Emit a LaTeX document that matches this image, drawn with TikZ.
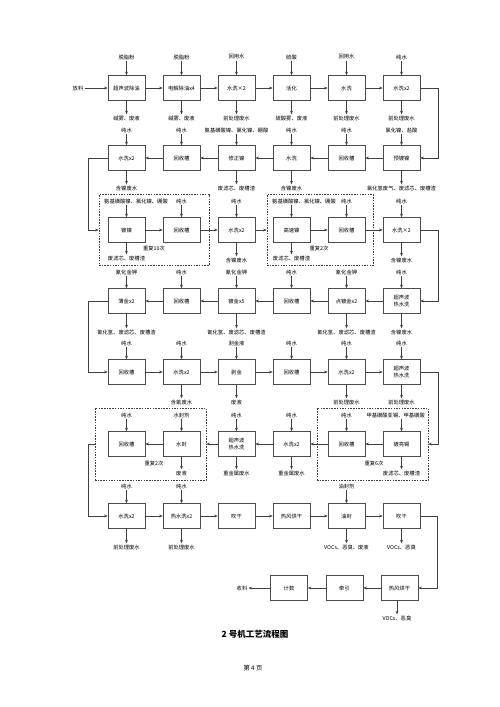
\documentclass[tikz,border=0pt]{standalone}
\usepackage{fontspec}
\setmainfont{Noto Sans CJK SC}
\usetikzlibrary{arrows.meta}
\newcommand{\labfont}{\fontsize{5.3}{6.2}\selectfont}
\begin{document}
\begin{tikzpicture}[x=1pt,y=-1pt,
  box/.style={draw=black!70, line width=0.7pt, minimum width=37pt, minimum height=25pt, inner sep=0pt, align=center, font=\labfont},
  lab/.style={inner sep=1pt, font=\labfont, align=center},
  arr/.style={draw=black!75, line width=0.5pt, -{Stealth[length=3.5pt,width=2.8pt]}},
  dbox/.style={draw=black!75, line width=0.6pt, dash pattern=on 1.5pt off 1.2pt, inner sep=0pt}]
\useasboundingbox (0,0) rectangle (500,707);
\fill[white] (0,0) rectangle (500,707);

% dashed groups
\node[dbox, minimum width=110pt, minimum height=71pt] (D1) at (154,230) {};
\node[dbox, minimum width=106pt, minimum height=71pt] (D2) at (320,230) {};
\node[dbox, minimum width=111pt, minimum height=72pt] (D3) at (372.5,444) {};
\node[dbox, minimum width=111pt, minimum height=72pt] (D4) at (150.5,444) {};

% ---------------- row 1
\node[box] (r1c1) at (126.5,88) {超声波除油};
\node[box] (r1c2) at (181.5,88) {电解除油x4};
\node[box] (r1c3) at (236.5,88) {水洗×2};
\node[box] (r1c4) at (291.5,88) {活化};
\node[box] (r1c5) at (346.5,88) {水洗};
\node[box] (r1c6) at (401.5,88) {水洗x2};
\node[lab] (fl) at (78,88) {放料};
\node[lab] (i1c1) at (126.5,57) {脱脂粉};
\node[lab] (i1c2) at (181.5,57) {脱脂粉};
\node[lab] (i1c3) at (236.5,57) {回用水};
\node[lab] (i1c4) at (291.5,57) {硫酸};
\node[lab] (i1c5) at (346.5,57) {回用水};
\node[lab] (i1c6) at (401.5,57) {纯水};
\node[lab] (o1c1) at (126.5,118) {碱雾、废液};
\node[lab] (o1c2) at (181.5,118) {碱雾、废液};
\node[lab] (o1c3) at (236.5,118) {前处理废水};
\node[lab] (o1c4) at (291.5,118) {硫酸雾、废液};
\node[lab] (o1c5) at (346.5,118) {前处理废水};
\node[lab] (o1c6) at (401.5,118) {前处理废水};

% ---------------- row 2
\node[box] (r2c1) at (126.5,158) {水洗x2};
\node[box] (r2c2) at (181.5,158) {回收槽};
\node[box] (r2c3) at (236.5,158) {修正镍};
\node[box] (r2c4) at (291.5,158) {水洗};
\node[box] (r2c5) at (346.5,158) {回收槽};
\node[box] (r2c6) at (401.5,158) {预镀镍};
\node[lab] (i2c1) at (126.5,130) {纯水};
\node[lab] (i2c2) at (181.5,130) {纯水};
\node[lab] (i2c3) at (236.5,130) {氨基磺酸镍、氯化镍、硼酸};
\node[lab] (i2c4) at (291.5,130) {纯水};
\node[lab] (i2c5) at (346.5,130) {纯水};
\node[lab] (i2c6) at (401.5,130) {氯化镍、盐酸};
\node[lab] (o2c1) at (126.5,188) {含镍废水};
\node[lab] (o2c3) at (236.5,188) {废滤芯、废槽渣};
\node[lab] (o2c4) at (291.5,188) {含镍废水};
\node[lab] (o2c6) at (401.5,188) {氯化氢废气、废滤芯、废槽渣};

% ---------------- row 3
\node[box] (r3c1) at (126.5,230) {镀镍};
\node[box] (r3c2) at (181.5,230) {回收槽};
\node[box] (r3c3) at (236.5,230) {水洗x2};
\node[box] (r3c4) at (291.5,230) {高速镍};
\node[box] (r3c5) at (346.5,230) {回收槽};
\node[box] (r3c6) at (401.5,230) {水洗×2};
\node[lab,anchor=west] (i3c1) at (103,201) {氨基磺酸镍、氯化镍、硼酸};
\node[lab] (i3c2) at (181.5,201) {纯水};
\node[lab] (i3c3) at (236.5,201) {纯水};
\node[lab,anchor=west] (i3c4) at (271,201) {氨基磺酸镍、氯化镍、硼酸};
\node[lab] (i3c5) at (346.5,201) {纯水};
\node[lab] (i3c6) at (401.5,201) {纯水};
\node[lab] (o3c1) at (126.5,258) {废滤芯、废槽渣};
\node[lab] (o3c3) at (236.5,260) {含镍废水};
\node[lab] (o3c4) at (291.5,258) {废滤芯、废槽渣};
\node[lab] (o3c6) at (401.5,260) {含镍废水};
\node[lab] (rep1) at (154,248) {重复10次};
\node[lab] (rep2) at (319,248) {重复2次};

% ---------------- row 4
\node[box] (r4c1) at (126.5,301) {薄金x2};
\node[box] (r4c2) at (181.5,301) {回收槽};
\node[box] (r4c3) at (236.5,301) {镀金x5};
\node[box] (r4c4) at (291.5,301) {回收槽};
\node[box] (r4c5) at (346.5,301) {点镀金x2};
\node[box] (r4c6) at (401.5,301) {超声波\\热水洗};
\node[lab] (i4c1) at (126.5,272) {氰化金钾};
\node[lab] (i4c2) at (181.5,272) {纯水};
\node[lab] (i4c3) at (236.5,272) {氰化金钾};
\node[lab] (i4c4) at (291.5,272) {纯水};
\node[lab] (i4c5) at (346.5,272) {氰化金钾};
\node[lab] (i4c6) at (401.5,272) {纯水};
\node[lab] (o4c1) at (126.5,332) {氰化氢、废滤芯、废槽渣};
\node[lab] (o4c3) at (236.5,332) {氰化氢、废滤芯、废槽渣};
\node[lab] (o4c5) at (346.5,332) {氰化氢、废滤芯、废槽渣};
\node[lab] (o4c6) at (401.5,332) {含镍废水};

% ---------------- row 5
\node[box] (r5c1) at (126.5,372) {回收槽};
\node[box] (r5c2) at (181.5,372) {水洗x2};
\node[box] (r5c3) at (236.5,372) {剥金};
\node[box] (r5c4) at (291.5,372) {回收槽};
\node[box] (r5c5) at (346.5,372) {水洗x2};
\node[box] (r5c6) at (401.5,372) {超声波\\热水洗};
\node[lab] (i5c1) at (126.5,343) {纯水};
\node[lab] (i5c2) at (181.5,343) {纯水};
\node[lab] (i5c3) at (236.5,343) {剥金液};
\node[lab] (i5c4) at (291.5,343) {纯水};
\node[lab] (i5c5) at (346.5,343) {纯水};
\node[lab] (i5c6) at (401.5,343) {纯水};
\node[lab] (o5c2) at (181.5,402) {含氰废水};
\node[lab] (o5c3) at (236.5,402) {废液};
\node[lab] (o5c5) at (346.5,402) {前处理废水};
\node[lab] (o5c6) at (401.5,402) {前处理废水};

% ---------------- row 6
\node[box] (r6c1) at (126.5,444) {回收槽};
\node[box] (r6c2) at (181.5,444) {水封};
\node[box] (r6c3) at (236.5,444) {超声波\\热水洗};
\node[box] (r6c4) at (291.5,444) {水洗x2};
\node[box] (r6c5) at (346.5,444) {回收槽};
\node[box] (r6c6) at (401.5,444) {镀亮锡};
\node[lab] (i6c1) at (126.5,415) {纯水};
\node[lab] (i6c2) at (181.5,415) {水封剂};
\node[lab] (i6c3) at (236.5,415) {纯水};
\node[lab] (i6c4) at (291.5,415) {纯水};
\node[lab] (i6c5) at (346.5,415) {纯水};
\node[lab,anchor=east] (i6c6) at (426,415) {甲基磺酸亚锡、甲基磺酸};
\node[lab] (o6c2) at (181.5,473) {废液};
\node[lab] (o6c3) at (236.5,473) {重金属废水};
\node[lab] (o6c4) at (291.5,473) {重金属废水};
\node[lab] (o6c6) at (401.5,473) {废滤芯、废槽渣};
\node[lab] (rep3) at (154,463) {重复2次};
\node[lab] (rep4) at (374,463) {重复6次};

% ---------------- row 7
\node[box] (r7c1) at (126.5,516) {水洗x2};
\node[box] (r7c2) at (181.5,516) {热水洗x2};
\node[box] (r7c3) at (236.5,516) {吹干};
\node[box] (r7c4) at (291.5,516) {热风烘干};
\node[box] (r7c5) at (346.5,516) {油封};
\node[box] (r7c6) at (401.5,516) {吹干};
\node[lab] (i7c1) at (126.5,486) {纯水};
\node[lab] (i7c2) at (181.5,486) {纯水};
\node[lab] (i7c5) at (346.5,486) {油封剂};
\node[lab] (o7c1) at (126.5,547) {前处理废水};
\node[lab] (o7c2) at (181.5,547) {前处理废水};
\node[lab] (o7c5) at (346.5,547) {VOCs、恶臭、废液};
\node[lab] (o7c6) at (401.5,547) {VOCs、恶臭};

% ---------------- row 8
\node[box] (r8c4) at (289,588) {计数};
\node[box] (r8c5) at (344.5,588) {牵引};
\node[box] (r8c6) at (399.5,588) {热风烘干};
\node[lab] (sl) at (242,588) {收料};
\node[lab] (o8c6) at (397,618) {VOCs、恶臭};

% title
\node[inner sep=0pt, font=\fontsize{8.5}{10}\selectfont\bfseries] (title) at (255,634) {2 号机工艺流程图};
\node[inner sep=0pt, font=\fontsize{6.3}{7}\selectfont] (page) at (253,668) {第 4 页};

% ---------------- vertical arrows
\foreach \n in {i1c1/r1c1,i1c2/r1c2,i1c3/r1c3,i1c4/r1c4,i1c5/r1c5,i1c6/r1c6,
  r1c1/o1c1,r1c2/o1c2,r1c3/o1c3,r1c4/o1c4,r1c5/o1c5,r1c6/o1c6,
  i2c1/r2c1,i2c2/r2c2,i2c3/r2c3,i2c4/r2c4,i2c5/r2c5,i2c6/r2c6,
  r2c1/o2c1,r2c3/o2c3,r2c4/o2c4,r2c6/o2c6,
  i3c2/r3c2,i3c3/r3c3,i3c5/r3c5,i3c6/r3c6,
  r3c1/o3c1,r3c3/o3c3,r3c4/o3c4,r3c6/o3c6,
  i4c1/r4c1,i4c2/r4c2,i4c3/r4c3,i4c4/r4c4,i4c5/r4c5,i4c6/r4c6,
  r4c1/o4c1,r4c3/o4c3,r4c5/o4c5,r4c6/o4c6,
  i5c1/r5c1,i5c2/r5c2,i5c3/r5c3,i5c4/r5c4,i5c5/r5c5,i5c6/r5c6,
  r5c2/o5c2,r5c3/o5c3,r5c5/o5c5,r5c6/o5c6,
  i6c1/r6c1,i6c2/r6c2,i6c3/r6c3,i6c4/r6c4,i6c5/r6c5,
  r6c2/o6c2,r6c3/o6c3,r6c4/o6c4,r6c6/o6c6,
  i7c1/r7c1,i7c2/r7c2,i7c5/r7c5,
  r7c1/o7c1,r7c2/o7c2,r7c5/o7c5,r7c6/o7c6}
  {\foreach \a/\b in \n {\draw[arr] (\a) -- (\b);}}
\draw[arr] (r3c1 |- i3c1.south) -- (r3c1);
\draw[arr] (r3c4 |- i3c4.south) -- (r3c4);
\draw[arr] (r6c6 |- i6c6.south) -- (r6c6);
\draw[arr] (r8c6.south -| o8c6) -- (o8c6);

% ---------------- horizontal flow
\draw[arr] (fl) -- (r1c1);
\foreach \a/\b in {r1c1/r1c2,r1c2/r1c3,r1c3/r1c4,r1c4/r1c5,r1c5/r1c6,
  r2c6/r2c5,r2c5/r2c4,r2c4/r2c3,r2c3/r2c2,r2c2/r2c1,
  r3c1/r3c2,r3c2/r3c3,r3c4/r3c5,r3c5/r3c6,
  r4c6/r4c5,r4c5/r4c4,r4c4/r4c3,r4c3/r4c2,r4c2/r4c1,
  r5c1/r5c2,r5c2/r5c3,r5c3/r5c4,r5c4/r5c5,r5c5/r5c6,
  r6c6/r6c5,r6c5/r6c4,r6c4/r6c3,r6c2/r6c1,
  r7c1/r7c2,r7c2/r7c3,r7c3/r7c4,r7c4/r7c5,r7c5/r7c6,
  r8c6/r8c5,r8c5/r8c4,r8c4/sl}
  {\draw[arr] (\a) -- (\b);}
\draw[arr] (r3c3.east) -- (D2.west);
\draw[arr] (r6c3.west) -- (D4.east);

% ---------------- row changes
\draw[arr] (r1c6.east) -- ++(18,0) |- (r2c6.east);
\draw[arr] (r2c1.west) -- ++(-19,0) |- (D1.west);
\draw[arr] (r3c6.east) -- ++(18,0) |- (r4c6.east);
\draw[arr] (r4c1.west) -- ++(-19,0) |- (r5c1.west);
\draw[arr] (r5c6.east) -- ++(18,0) |- (D3.east);
\draw[arr] (D4.west) -- ++(-6,0) |- (r7c1.west);
\draw[arr] (r7c6.east) -- ++(17,0) |- (r8c6.east);
\end{tikzpicture}
\end{document}
